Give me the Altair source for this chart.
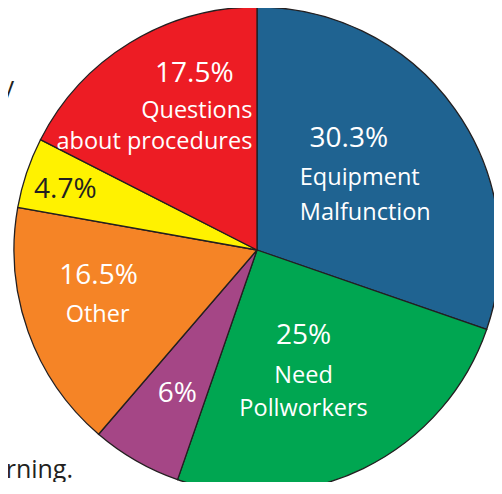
import json
import altair as alt
import pandas as pd

# ---- data ----
categories = ["Equipment Malfunction", "Need Pollworkers", "Unlabeled (6%)",
              "Other", "Unlabeled (4.7%)", "Questions about procedures"]
values = [30.3, 25, 6, 16.5, 4.7, 17.5]
pct_labels = ["30.3%", "25%", "6%", "16.5%", "4.7%", "17.5%"]
name_lines = [["Equipment", "Malfunction"], ["Need", "Pollworkers"], [],
              ["Other"], [], ["Questions", "about procedures"]]
fragments = ["y", "orning."]

# ---- style ----
colors = ["#1F6391", "#00A651", "#A54686", "#F58426", "#FFF200", "#ED1C24"]
dark = "#231F20"
FONT = "Open Sans"
CX, CY, R = 249, 242, 243
label_radius = [125, 134, 164, 165, 200, 162]
# (dx, dy) for percent line, then (dx, dy, align) for each name line
pct_off = [(-10, -30), (-12, -27), (2, 10), (-3, -21), (-2, 12), (22, -30)]
name_off = [[(-59, 8, "left"), (-59, 43, "left")],
            [(-12, 12, "center"), (-12, 45, "center")],
            [],
            [(-4, 17, "center")],
            [],
            [(80, 6, "right"), (80, 37, "right")]]
pct_color = ["white", "white", "white", "white", dark, "white"]

df = pd.DataFrame({"idx": list(range(len(values))), "cat": categories, "value": values})
base = alt.Chart(df)

theta = alt.Theta("value:Q", stack=True)
order = alt.Order("idx:Q")

pie = base.mark_arc(outerRadius=R, stroke=dark, strokeWidth=1.3).encode(
    theta=theta, order=order,
    color=alt.Color("cat:N", scale=alt.Scale(domain=categories, range=colors), legend=None),
    x=alt.value(CX), y=alt.value(CY),
)

layers = [pie]


def text_layer(i, txt, dx, dy, align, size, color, key):
    return base.transform_calculate(
        **{key: f"datum.idx == {i} ? {json.dumps(txt)} : ''"}
    ).mark_text(
        radius=label_radius[i], dx=dx, dy=dy, align=align, baseline="alphabetic",
        font=FONT, fontSize=size, color=color,
    ).encode(theta=theta, order=order, text=f"{key}:N",
             x=alt.value(CX), y=alt.value(CY))


k = 0
for i in range(len(values)):
    dx, dy = pct_off[i]
    layers.append(text_layer(i, pct_labels[i], dx, dy, "center", 28, pct_color[i], f"t{k}"))
    k += 1
    for line, (ndx, ndy, al) in zip(name_lines[i], name_off[i]):
        layers.append(text_layer(i, line, ndx, ndy, al, 23.5, "white", f"t{k}"))
        k += 1

frag_df = pd.DataFrame({"t": fragments, "px": [6, 65], "py": [87, 470]})
frag = alt.Chart(frag_df).mark_text(
    align="right", baseline="alphabetic", font=FONT, fontSize=25, color=dark
).encode(
    text="t:N",
    x=alt.X("px:Q", scale=None, axis=None),
    y=alt.Y("py:Q", scale=None, axis=None),
)
layers.append(frag)

chart = alt.layer(*layers).properties(
    width=486, height=474,
    autosize=alt.AutoSizeParams(type="none"),
    padding={"left": 0, "top": 0, "right": 0, "bottom": 0},
    background="white",
).configure_view(stroke=None)

chart.save("out.html", embed_options={"renderer": "svg", "actions": False})
